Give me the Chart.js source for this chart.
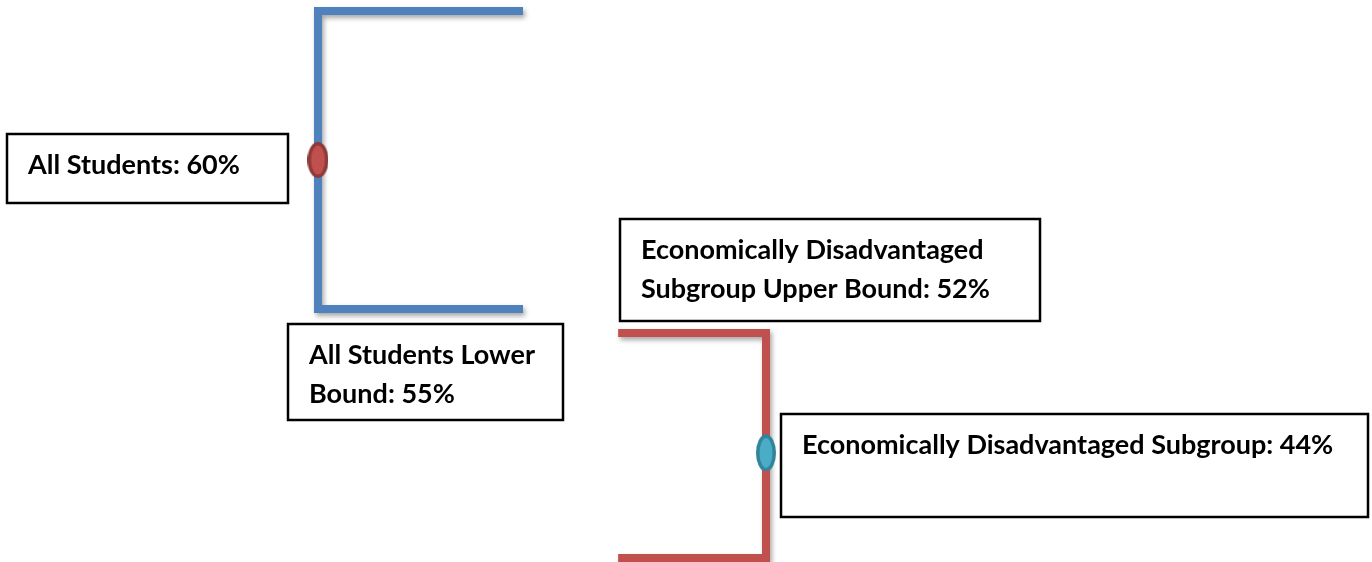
<!DOCTYPE html>
<html>
<head>
<meta charset="utf-8">
<script src="https://cdn.jsdelivr.net/npm/chart.js@4/dist/chart.umd.min.js"></script>
<style>
  html, body { margin: 0; padding: 0; background: #fff; }
  #wrap { width: 1372px; height: 562px; position: relative; }
</style>
</head>
<body>
<div id="wrap"><canvas id="chart"></canvas></div>
<script>
// values
const groups = ['All Students', 'Economically Disadvantaged Subgroup'];
const groupPos = [1, 2];
const estimates = [60, 44];
const upperBounds = [65, 52];
const lowerBounds = [55, 37];

// styles
const lineColors = ['#4F81BD', '#C0504D'];
const markerFill = ['#C0504D', '#4BACC6'];
const markerEdge = ['#8E3A38', '#31849B'];
const armLength = [0.4576, -0.33];
const FONT = 'bold 27px Lato';

function makeEllipse(w, h, fill, edge, lw) {
  const c = document.createElement('canvas');
  c.width = w; c.height = h;
  const g = c.getContext('2d');
  g.beginPath();
  g.ellipse(w / 2, h / 2, w / 2 - lw / 2, h / 2 - lw / 2, 0, 0, Math.PI * 2);
  g.fillStyle = fill;
  g.fill();
  g.lineWidth = lw;
  g.strokeStyle = edge;
  g.stroke();
  return c;
}

function bracket(i) {
  const x0 = groupPos[i], x1 = groupPos[i] + armLength[i];
  return [
    {x: x1, y: upperBounds[i]},
    {x: x0, y: upperBounds[i]},
    {x: x0, y: lowerBounds[i]},
    {x: x1, y: lowerBounds[i]}
  ];
}

const shadowPlugin = {
  id: 'shadow',
  beforeDatasetDraw(chart, args) {
    if (chart.data.datasets[args.index].shadow) {
      const c = chart.ctx;
      c.save();
      c.shadowColor = 'rgba(0,0,0,0.35)';
      c.shadowBlur = 5;
      c.shadowOffsetX = 2;
      c.shadowOffsetY = 3;
    }
  },
  afterDatasetDraw(chart, args) {
    if (chart.data.datasets[args.index].shadow) chart.ctx.restore();
  }
};

const boxPlugin = {
  id: 'boxes',
  afterDatasetsDraw(chart) {
    const ctx = chart.ctx;
    const x = chart.scales.x, yA = chart.scales.yAll, yE = chart.scales.yEcon;
    const items = [
      {ax: x.getPixelForValue(groupPos[0]), ay: yA.getPixelForValue(estimates[0]),
       dx: -311, dy: -26, w: 281, h: 69,
       lines: [groups[0] + ': ' + estimates[0] + '%']},
      {ax: x.getPixelForValue(groupPos[0]), ay: yA.getPixelForValue(lowerBounds[0]),
       dx: -30, dy: 15, w: 275, h: 96,
       lines: [groups[0] + ' Lower', 'Bound: ' + lowerBounds[0] + '%']},
      {ax: x.getPixelForValue(groupPos[1]), ay: yE.getPixelForValue(upperBounds[1]),
       dx: -146, dy: -114, w: 420, h: 102,
       lines: ['Economically Disadvantaged', 'Subgroup Upper Bound: ' + upperBounds[1] + '%']},
      {ax: x.getPixelForValue(groupPos[1]), ay: yE.getPixelForValue(estimates[1]),
       dx: 15, dy: -39, w: 587, h: 103,
       lines: [groups[1] + ': ' + estimates[1] + '%']}
    ];
    ctx.save();
    items.forEach(b => {
      const left = Math.round(b.ax + b.dx), top = Math.round(b.ay + b.dy);
      ctx.fillStyle = '#fff';
      ctx.fillRect(left, top, b.w, b.h);
      ctx.lineWidth = 2.5;
      ctx.strokeStyle = '#000';
      ctx.strokeRect(left, top, b.w, b.h);
      ctx.fillStyle = '#000';
      ctx.font = FONT;
      ctx.textBaseline = 'alphabetic';
      b.lines.forEach((t, k) => {
        ctx.fillText(t, left + 21, top + 40 + k * 39);
      });
    });
    ctx.restore();
  }
};

const ctx = document.getElementById('chart').getContext('2d');
new Chart(ctx, {
  type: 'scatter',
  data: {
    datasets: [
      {
        label: groups[0] + ' estimate',
        data: [{x: groupPos[0], y: estimates[0]}],
        yAxisID: 'yAll',
        pointStyle: makeEllipse(21, 36, markerFill[0], markerEdge[0], 3.5)
      },
      {
        label: groups[1] + ' estimate',
        data: [{x: groupPos[1], y: estimates[1]}],
        yAxisID: 'yEcon',
        pointStyle: makeEllipse(20, 37, markerFill[1], markerEdge[1], 3.5)
      },
      {
        label: groups[0] + ' range',
        data: bracket(0),
        yAxisID: 'yAll',
        showLine: true,
        borderColor: lineColors[0],
        borderWidth: 8,
        borderJoinStyle: 'miter',
        borderCapStyle: 'butt',
        pointRadius: 0,
        tension: 0,
        shadow: true
      },
      {
        label: groups[1] + ' range',
        data: bracket(1),
        yAxisID: 'yEcon',
        showLine: true,
        borderColor: lineColors[1],
        borderWidth: 8,
        borderJoinStyle: 'miter',
        borderCapStyle: 'butt',
        pointRadius: 0,
        tension: 0,
        shadow: true
      }
    ]
  },
  options: {
    responsive: true,
    maintainAspectRatio: false,
    animation: false,
    events: [],
    layout: { padding: 0, autoPadding: false },
    plugins: {
      legend: { display: false },
      tooltip: { enabled: false }
    },
    scales: {
      x: { type: 'linear', display: false, min: 0.2902, max: 3.3527 },
      yAll: { type: 'linear', display: false, min: 46.51, max: 65.369 },
      yEcon: { type: 'linear', display: false, min: 36.73, max: 74.2 }
    }
  },
  plugins: [shadowPlugin, boxPlugin]
});
</script>
</body>
</html>
